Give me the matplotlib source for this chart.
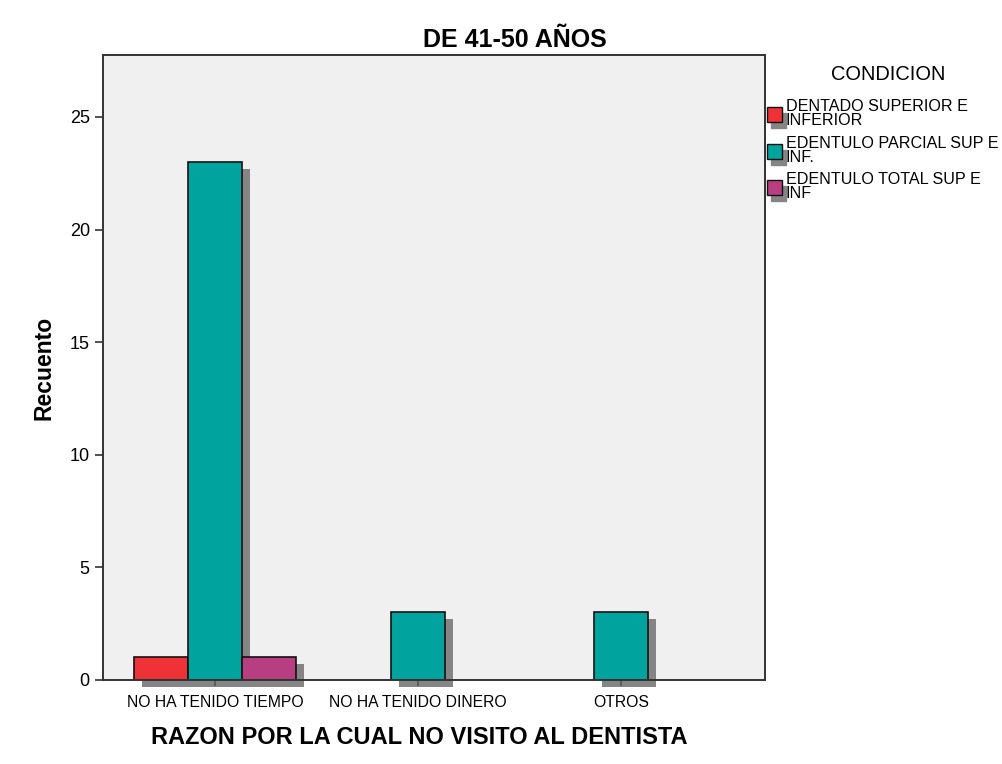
import numpy as np
import matplotlib.pyplot as plt
from matplotlib.patches import Rectangle
from matplotlib.transforms import ScaledTranslation

plt.rcParams['font.family'] = ['Liberation Sans', 'DejaVu Sans']

# --- DATA ---
categories = ['NO HA TENIDO TIEMPO', 'NO HA TENIDO DINERO', 'OTROS']
series_names = ['DENTADO SUPERIOR E\nINFERIOR', 'EDENTULO PARCIAL SUP E\nINF.', 'EDENTULO TOTAL SUP E\nINF']
dentado = [1, 0, 0]
parcial = [23, 3, 3]
total = [1, 0, 0]
series_colors = ['#ee3238', '#00a39e', '#b73e80']

W, H = 1003, 764
fig = plt.figure(figsize=(W / 100, H / 100), dpi=100)
ax = fig.add_axes([103 / W, 1 - 680 / H, 662 / W, 625 / H])
ax.set_facecolor('#f0f0f0')

x = np.arange(len(categories))
width = 0.266
offsets = [-width, 0, width]
shadow = ScaledTranslation(8 / 100, -7 / 100, fig.dpi_scale_trans)

# shadows first, then the bars on top
for vals, off in zip([dentado, parcial, total], offsets):
    for xi, v in zip(x, vals):
        if v == 0:
            continue
        ax.bar(xi + off, v, width, color='#858585', zorder=1,
               transform=ax.transData + shadow, clip_on=False)
for vals, off, col in zip([dentado, parcial, total], offsets, series_colors):
    for xi, v in zip(x, vals):
        if v == 0:
            continue
        ax.bar(xi + off, v, width, color=col, edgecolor='#111111',
               linewidth=1.2, zorder=2)

ax.set_xlim(-0.552, 2.709)
ax.set_ylim(0, 27.75)
ax.set_yticks([0, 5, 10, 15, 20, 25])
ax.set_xticks(x)
ax.set_xticklabels(categories, fontsize=11.3)
ax.tick_params(axis='y', labelsize=13, length=6, width=1.2, color='#333333')
ax.tick_params(axis='x', length=4, width=1.2, color='#555555', pad=7)
for s in ax.spines.values():
    s.set_linewidth(1.4)
    s.set_color('#333333')

fig.text(515 / W, 1 - 40 / H, 'DE 41-50 AÑOS', fontsize=18, fontweight='bold',
         ha='center', va='center')
ax.set_ylabel('Recuento', fontsize=16.5, fontweight='bold', labelpad=10)
fig.text(419 / W, 1 - 737 / H, 'RAZON POR LA CUAL NO VISITO AL DENTISTA',
         fontsize=17, fontweight='bold', ha='center', va='center')

# --- LEGEND (manual, with shadows) ---
fig.text(888 / W, 1 - 75 / H, 'CONDICION', fontsize=14.4, ha='center', va='center')
for i, (name, col) in enumerate(zip(series_names, series_colors)):
    top = 107 + i * 36.5
    fig.add_artist(Rectangle((771 / W, 1 - (top + 21) / H), 15 / W, 15 / H,
                             transform=fig.transFigure, color='#858585'))
    fig.add_artist(Rectangle((767 / W, 1 - (top + 15) / H), 15 / W, 15 / H,
                             transform=fig.transFigure, facecolor=col,
                             edgecolor='#111111', linewidth=1))
    fig.text(786 / W, 1 - (top - 8) / H, name, fontsize=11.6, ha='left', va='top',
             linespacing=0.95)

fig.savefig('out.png', dpi=100)
